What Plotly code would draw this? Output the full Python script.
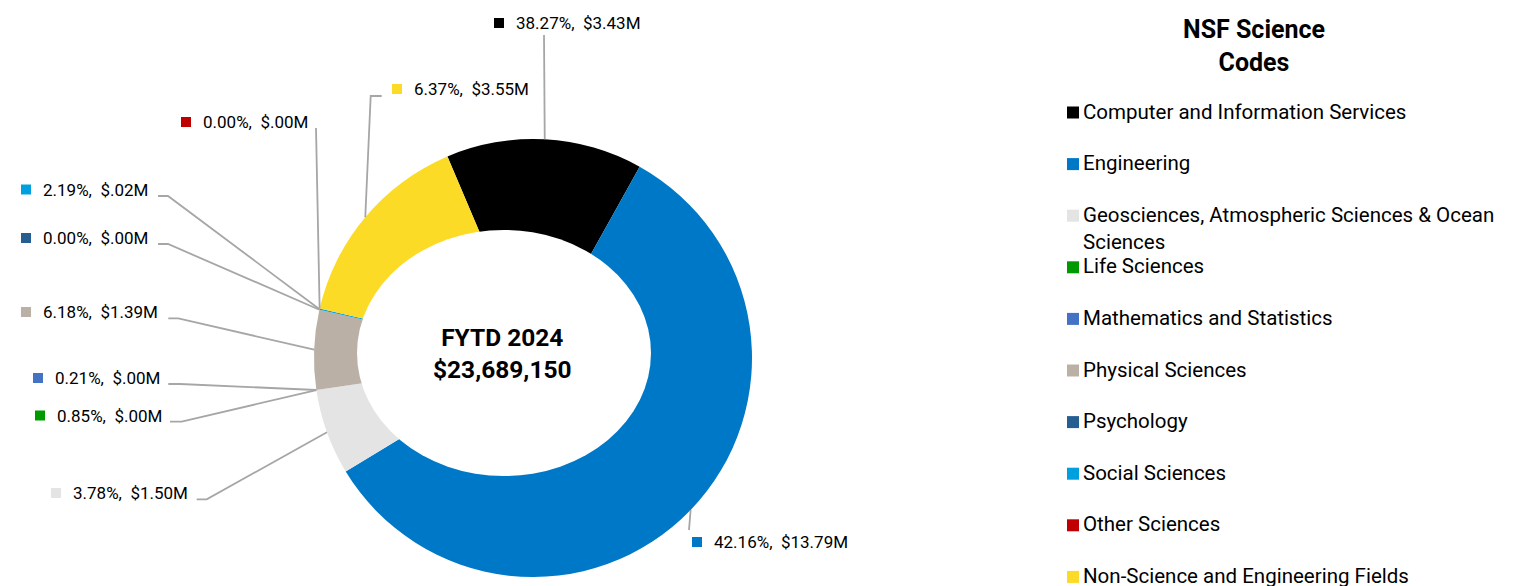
import math
import plotly.graph_objects as go

# ---------------- data ----------------
categories = [
    "Computer and Information Services",
    "Engineering",
    "Geosciences, Atmospheric Sciences & Ocean Sciences",
    "Life Sciences",
    "Mathematics and Statistics",
    "Physical Sciences",
    "Psychology",
    "Social Sciences",
    "Other Sciences",
    "Non-Science and Engineering Fields",
]
legend_text = [
    "Computer and Information Services",
    "Engineering",
    "Geosciences, Atmospheric Sciences & Ocean<br>Sciences",
    "Life Sciences",
    "Mathematics and Statistics",
    "Physical Sciences",
    "Psychology",
    "Social Sciences",
    "Other Sciences",
    "Non-Science and Engineering Fields",
]
values_m = [3.43, 13.79, 1.50, 0.00, 0.00, 1.39, 0.00, 0.02, 0.00, 3.55]
pct_labels = ["38.27%", "42.16%", "3.78%", "0.85%", "0.21%", "6.18%", "0.00%", "2.19%", "0.00%", "6.37%"]
dollar_labels = ["$3.43M", "$13.79M", "$1.50M", "$.00M", "$.00M", "$1.39M", "$.00M", "$.02M", "$.00M", "$3.55M"]
colors = ["#000000", "#0078C8", "#E4E4E4", "#009A00", "#4472C4", "#BAB0A5",
          "#255E91", "#00A0DF", "#C00000", "#FCDB26"]
center_title = "FYTD 2024"
center_total = 23689150
legend_title = "NSF Science<br>Codes"

# ---------------- layout (window pixels) ----------------
OFF = 8                             # page body margin
W, H = 1516 - OFF, 586 - OFF
CX, CY, R = 533, 358, 219          # donut centre / outer radius
START_DEG = -23                    # first slice start angle (clockwise from 12 o'clock)
FONT = "Roboto"

def px(x):
    return (x - OFF) / W

def py(y):
    return 1 - (y - OFF) / H

# label placement: (square left x, centre y) and leader elbow points
label_box = [(494, 23), (692, 542), (51, 493), (35, 415.5), (33, 378),
             (21, 312), (21, 238), (21, 189.5), (181, 122), (392, 89)]
leader_pts = [
    [(544, 35)],
    [(689, 530)],
    [(206.7, 499.3), (196.7, 499.3)],
    [(181.7, 421.7), (170, 421.7)],
    [(180, 384), (168.3, 384)],
    [(178.3, 318.3), (168.3, 318.3)],
    [(168, 244), (158, 244)],
    [(168, 196), (158, 196)],
    [(316, 128)],
    [(370.7, 96), (381.7, 96)],
]

fig = go.Figure()
fig.add_trace(go.Pie(
    labels=categories,
    values=values_m,
    marker=dict(colors=colors, line=dict(width=0)),
    hole=0.45,
    sort=False,
    direction="clockwise",
    rotation=START_DEG,
    textinfo="none",
    hoverinfo="label+value",
    showlegend=False,
    domain=dict(x=[px(CX - R), px(CX + R)], y=[py(CY + R), py(CY - R)]),
))

shapes = []
annotations = []

# leader lines computed from slice mid-angles
total = sum(values_m)
cum = 0.0
for i, v in enumerate(values_m):
    mid = math.radians(START_DEG + (cum + v / 2) / total * 360)
    cum += v
    sx = CX + R * math.sin(mid)
    sy = CY - R * math.cos(mid)
    pts = [(sx, sy)] + leader_pts[i]
    path = "M " + " L ".join(f"{px(x):.6f},{py(y):.6f}" for x, y in pts)
    shapes.append(dict(type="path", xref="paper", yref="paper", path=path,
                       line=dict(color="#A6A6A6", width=1.8), layer="above"))
    bx, by = label_box[i]
    shapes.append(dict(type="rect", xref="paper", yref="paper",
                       x0=px(bx), x1=px(bx + 10), y0=py(by + 5), y1=py(by - 5),
                       fillcolor=colors[i], line=dict(width=0), layer="above"))
    annotations.append(dict(
        x=px(bx + 19.5), y=py(by), xref="paper", yref="paper",
        xanchor="left", yanchor="middle", showarrow=False,
        text=f"{pct_labels[i]},\u00a0\u00a0{dollar_labels[i]}",
        font=dict(family=FONT, size=17, color="#000000"),
    ))

# white elliptical centre panel with total
shapes.append(dict(type="circle", xref="paper", yref="paper",
                   x0=px(357), x1=px(651), y0=py(476), y1=py(230),
                   fillcolor="#FFFFFF", line=dict(width=0), layer="above"))
annotations.append(dict(
    x=px(502), y=py(353), xref="paper", yref="paper",
    xanchor="center", yanchor="middle", showarrow=False,
    text=f"<b>{center_title}<br>${center_total:,}</b>",
    font=dict(family=FONT, size=24.5, color="#000000"),
))

# legend (manual)
annotations.append(dict(
    x=px(1254), y=py(46), xref="paper", yref="paper",
    xanchor="center", yanchor="middle", showarrow=False,
    text=f"<b>{legend_title}</b>",
    font=dict(family=FONT, size=25, color="#000000"),
))
LEG_X, LEG_Y0, LEG_DY = 1067, 112.5, 51.6
LEG_FS = 20.5
for i, name in enumerate(legend_text):
    cy = LEG_Y0 + LEG_DY * i
    shapes.append(dict(type="rect", xref="paper", yref="paper",
                       x0=px(LEG_X), x1=px(LEG_X + 12), y0=py(cy + 6), y1=py(cy - 6),
                       fillcolor=colors[i], line=dict(width=0), layer="above"))
    annotations.append(dict(
        x=px(LEG_X + 14), y=py(cy - 15), xref="paper", yref="paper",
        xanchor="left", yanchor="top", align="left", showarrow=False,
        text=name, font=dict(family=FONT, size=LEG_FS, color="#000000"),
    ))

fig.update_layout(
    width=W, height=H,
    margin=dict(l=0, r=0, t=0, b=0),
    paper_bgcolor="#FFFFFF", plot_bgcolor="#FFFFFF",
    shapes=shapes, annotations=annotations,
    showlegend=False,
)

fig.write_html("out.html")
